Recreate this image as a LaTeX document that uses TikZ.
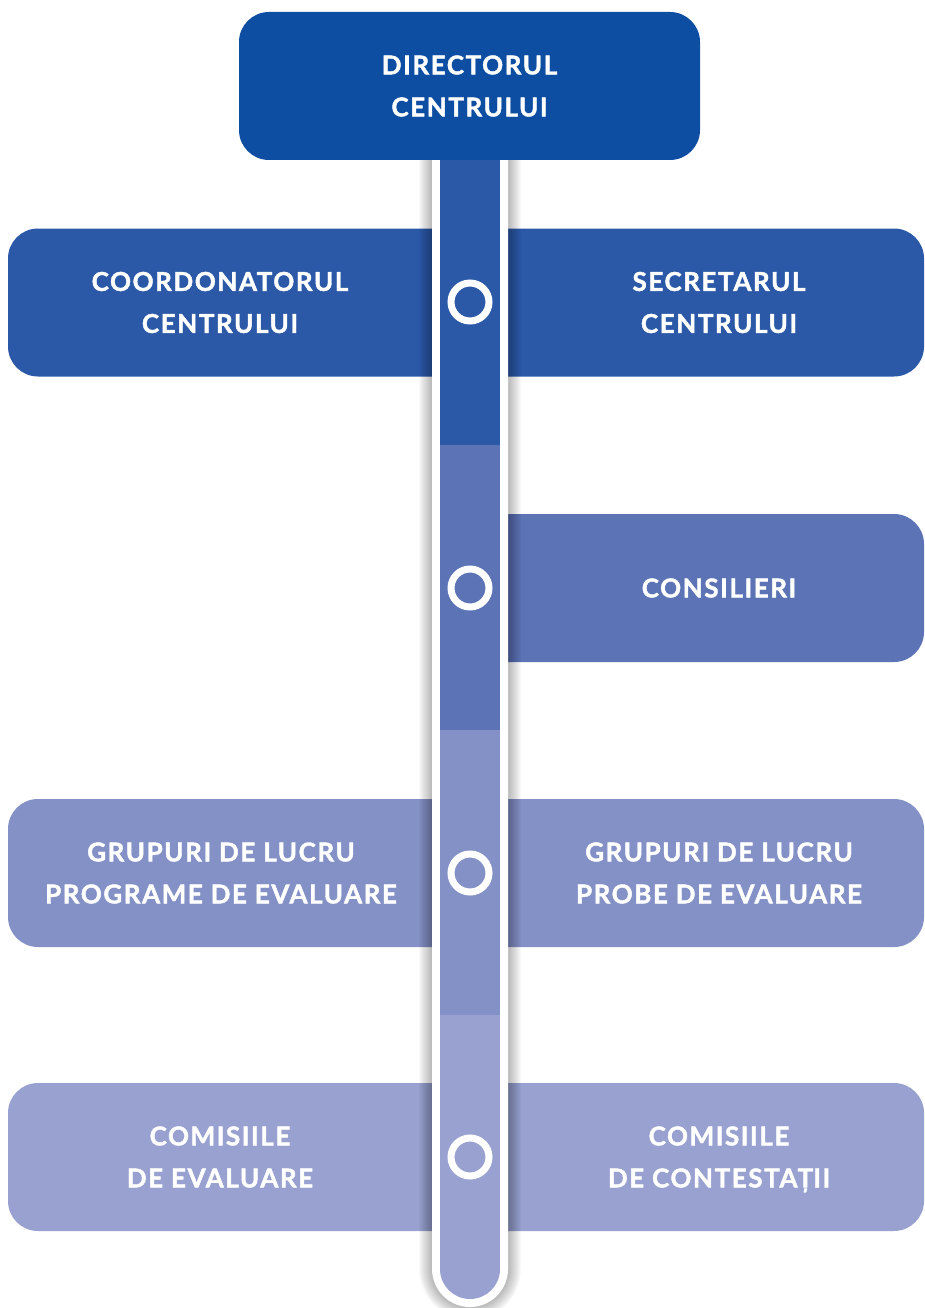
\documentclass[tikz,border=0pt]{standalone}
\usepackage{fontspec}
\setmainfont{Lato}[BoldFeatures={FakeBold=1.6, LetterSpace=6}]
\begin{document}
\begin{tikzpicture}[x=1pt,y=-1pt,
  lbl/.style={text=white, font=\fontsize{26}{42}\selectfont\bfseries, align=center, inner sep=0pt},
  bar/.style={rounded corners=30pt, minimum height=148pt, inner sep=0pt, draw=none},
  ring/.style={draw=white, line width=7pt},
]
\definecolor{cTop}{HTML}{0E4EA2}
\definecolor{cA}{HTML}{2B59A8}
\definecolor{cB}{HTML}{5C73B5}
\definecolor{cC}{HTML}{8491C6}
\definecolor{cD}{HTML}{98A1CF}

\useasboundingbox (0,0) rectangle (924,1308);

% horizontal bands behind the spine
\node[bar, fill=cA, minimum width=916pt] (rowA) at (466,302.5) {};
\node[bar, fill=cB, minimum width=454pt] (rowB) at (697,588) {};
\node[bar, fill=cC, minimum width=916pt] (rowC) at (466,873) {};
\node[bar, fill=cD, minimum width=916pt] (rowD) at (466,1157) {};

% soft shadow along the spine
\foreach \w in {2,4,...,26} {
  \draw[black, opacity=0.022, line width=\w pt]
    (432,150) -- (432,1269) arc[start angle=180, end angle=0, radius=38] -- (508,150);
}

% spine: white casing and coloured segments
\fill[white] (432,150) -- (432,1269) arc[start angle=180, end angle=0, radius=38] -- (508,150) -- cycle;
\begin{scope}
  \clip (440,150) -- (440,1269) arc[start angle=180, end angle=0, radius=30] -- (500,150) -- cycle;
  \fill[cA] (440,150) rectangle (500,445);
  \fill[cB] (440,445) rectangle (500,730);
  \fill[cC] (440,730) rectangle (500,1015);
  \fill[cD] (440,1015) rectangle (500,1320);
\end{scope}

% markers on the spine
\foreach \n/\yy in {mA/302, mB/588, mC/873, mD/1157} {
  \node[ring, circle, minimum size=38pt, inner sep=0pt] (\n) at (470,\yy) {};
}

% top box
\node[fill=cTop, rounded corners=30pt, minimum width=461pt, minimum height=148pt, inner sep=0pt] (dir) at (469.5,86) {};
\node[lbl] (dirT) at (dir.center) {DIRECTORUL\\CENTRULUI};

% labels
\node[lbl] (tA1) at (220,302.5) {COORDONATORUL\\CENTRULUI};
\node[lbl] (tA2) at (719,302.5) {SECRETARUL\\CENTRULUI};
\node[lbl] (tB2) at (719,588) {CONSILIERI};
\node[lbl] (tC1) at (221,873) {GRUPURI DE LUCRU\\PROGRAME DE EVALUARE};
\node[lbl] (tC2) at (719,873) {GRUPURI DE LUCRU\\PROBE DE EVALUARE};
\node[lbl] (tD1) at (220,1157) {COMISIILE\\DE EVALUARE};
\node[lbl] (tD2) at (719,1157) {COMISIILE\\DE CONTESTA\smash{Ț}II};
\end{tikzpicture}
\end{document}
